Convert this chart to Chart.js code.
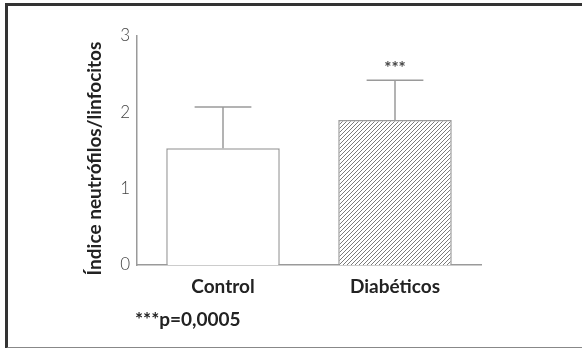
<!DOCTYPE html>
<html>
<head>
<meta charset="utf-8">
<script src="https://cdn.jsdelivr.net/npm/chart.js@4/dist/chart.umd.min.js"></script>
<style>
  body { margin: 0; background: #fff; }
  #wrap { position: relative; width: 582px; height: 348px; overflow: hidden; }
  #frame {
    position: absolute; left: 5px; top: 3px; width: 580px; height: 341px;
    border-top: 3px solid #333; border-left: 3px solid #333; border-bottom: 2px solid #888;
  }
  canvas { position: absolute; left: 0; top: 0; }
</style>
</head>
<body>
<div id="wrap">
  <div id="frame"></div>
  <canvas id="chart" width="582" height="348"></canvas>
</div>
<script>
const categories = ["Control", "Diabéticos"];
const means = [1.53, 1.90];
const sdUpper = [0.54, 0.52];
const significance = ["", "***"];
const yTicks = [0, 1, 2, 3];
const yTitle = "Índice neutrófilos/linfocitos";
const footnote = "***p=0,0005";

const axisGray = "#9a9a9a";
const fontName = "Lato, 'Open Sans', sans-serif";

function hatchPattern() {
  const c = document.createElement("canvas");
  c.width = 4;
  c.height = 4;
  const g = c.getContext("2d");
  g.fillStyle = "#fff";
  g.fillRect(0, 0, 4, 4);
  g.strokeStyle = "#7a7a7a";
  g.lineWidth = 1;
  g.beginPath();
  g.moveTo(-1, 5); g.lineTo(5, -1);
  g.moveTo(-1, 1); g.lineTo(1, -1);
  g.moveTo(3, 5); g.lineTo(5, 3);
  g.stroke();
  return g.createPattern(c, "repeat");
}

const ctx = document.getElementById("chart").getContext("2d");

// error bars (upper only), stars over bars, y title, footnote
const extras = {
  id: "extras",
  afterDatasetsDraw(chart) {
    const g = chart.ctx;
    const x = chart.scales.x;
    const y = chart.scales.y;
    const meta = chart.getDatasetMeta(0);
    g.save();
    g.strokeStyle = axisGray;
    g.lineWidth = 1.5;
    means.forEach((m, i) => {
      const bar = meta.data[i];
      const cx = x.getPixelForValue(i);
      const top = y.getPixelForValue(m + sdUpper[i]);
      const base = y.getPixelForValue(m);
      const half = bar.width / 4;
      g.beginPath();
      g.moveTo(cx, base);
      g.lineTo(cx, top);
      g.moveTo(cx - half, top);
      g.lineTo(cx + half, top);
      g.stroke();
      if (significance[i]) {
        g.fillStyle = "#444";
        g.font = "bold 17px " + fontName;
        g.textAlign = "center";
        g.textBaseline = "alphabetic";
        g.fillText(significance[i], cx, top - 6);
      }
    });

    g.save();
    g.translate(95, (chart.chartArea.top + chart.chartArea.bottom) / 2 + 8);
    g.rotate(-Math.PI / 2);
    g.fillStyle = "#222";
    g.font = "bold 19px " + fontName;
    g.textAlign = "center";
    g.textBaseline = "middle";
    g.fillText(yTitle, 0, 0);
    g.restore();

    g.fillStyle = "#222";
    g.font = "bold 19px " + fontName;
    g.textAlign = "left";
    g.textBaseline = "alphabetic";
    g.fillText(footnote, 135, 326);
    g.restore();
  }
};

new Chart(ctx, {
  type: "bar",
  data: {
    labels: categories,
    datasets: [{
      data: means,
      backgroundColor: ["#fff", hatchPattern()],
      borderColor: axisGray,
      borderWidth: 1.5,
      categoryPercentage: 1,
      barPercentage: 0.66
    }]
  },
  options: {
    responsive: false,
    animation: false,
    layout: { padding: { left: 0, top: 36, right: 101, bottom: 0 } },
    plugins: { legend: { display: false }, tooltip: { enabled: false } },
    scales: {
      x: {
        grid: { display: false, drawTicks: true, tickLength: 5, tickColor: axisGray },
        border: { color: axisGray, width: 1.5 },
        ticks: { color: "#222", font: { family: fontName, size: 19, weight: "bold" }, padding: 5 },
        afterFit(scale) { scale.height = 83; }
      },
      y: {
        min: 0,
        max: 3,
        afterBuildTicks(scale) { scale.ticks = yTicks.map(v => ({ value: v })); },
        grid: { display: false, drawTicks: true, tickLength: 5, tickColor: axisGray },
        border: { color: axisGray, width: 1.5 },
        ticks: { color: "#444", font: { family: fontName, size: 17, weight: 300 }, padding: 2 },
        afterFit(scale) { scale.width = 137; }
      }
    }
  },
  plugins: [extras]
});
</script>
</body>
</html>
